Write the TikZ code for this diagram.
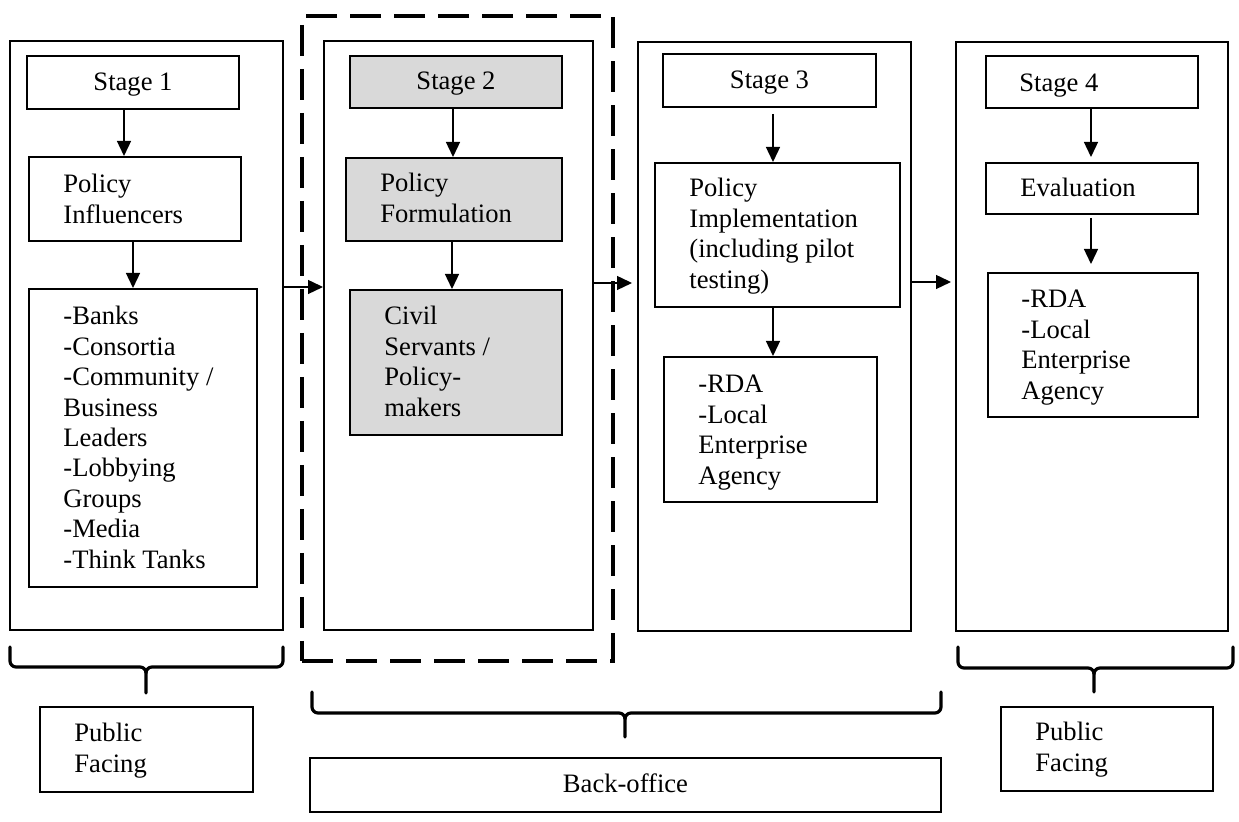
\documentclass[tikz,border=0pt]{standalone}
\usepackage{fontspec}
\setmainfont{Liberation Serif}
\usetikzlibrary{arrows.meta,fit,calc}
\definecolor{grayfill}{HTML}{D9D9D9}
\begin{document}
\begin{tikzpicture}[x=0.5pt,y=-0.5pt,
  box/.style={draw,line width=1pt,inner sep=0pt},
  gbox/.style={box,fill=grayfill},
  outer/.style={draw,line width=1pt,inner sep=0pt},
  dashbox/.style={draw,line width=2pt,dash pattern=on 15.5pt off 6.5pt,inner sep=0pt},
  arr/.style={line width=0.7pt,-{Triangle[length=7.5pt,width=7pt]}},
  txt/.style={inner sep=0pt,align=left,anchor=base west,font=\fontsize{13.3}{15.2}\selectfont},
  ctxt/.style={txt,anchor=base},
  brace/.style={line width=1.6pt,line cap=round,line join=round}]
\useasboundingbox (0,0) rectangle (1239,822);

% dashed back-office group
\node[dashbox,fit={(302,16)(613,661)}] (dash) {};

% outer stage columns
\node[outer,fit={(10,41)(283,630)}] (o1) {};
\node[outer,fit={(324,41)(593,630)}] (o2) {};
\node[outer,fit={(638,42)(911,631)}] (o3) {};
\node[outer,fit={(956,42)(1228,631)}] (o4) {};

% stage 1 (text nodes anchored at the baseline of their last line)
\node[box,fit={(27,56)(239,109)}] (s1) {};
\node[ctxt] (s1t) at (133,91) {Stage 1};
\node[box,fit={(29,157)(241,241)}] (pi) {};
\node[txt] (pit) at (63,223.4) {Policy\\Influencers};
\node[box,fit={(29,289)(257,587)}] (l1) {};
\node[txt] (l1t) at (63,568.2) {-Banks\\-Consortia\\-Community /\\Business\\Leaders\\-Lobbying\\Groups\\-Media\\-Think Tanks};

% stage 2
\node[gbox,fit={(350,56)(562,108)}] (s2) {};
\node[ctxt] (s2t) at (456,90) {Stage 2};
\node[gbox,fit={(346,158)(562,241)}] (pf) {};
\node[txt] (pft) at (380,222.4) {Policy\\Formulation};
\node[gbox,fit={(350,290)(562,435)}] (cs) {};
\node[txt] (cst) at (384,416.2) {Civil\\Servants /\\Policy-\\makers};

% stage 3
\node[box,fit={(663,54)(876,107)}] (s3) {};
\node[ctxt] (s3t) at (769.5,89) {Stage 3};
\node[box,fit={(655,163)(900,307)}] (pim) {};
\node[txt] (pimt) at (689,288.2) {Policy\\Implementation\\(including pilot\\testing)};
\node[box,fit={(664,357)(877,502)}] (r3) {};
\node[txt] (r3t) at (698,484.2) {-RDA\\-Local\\Enterprise\\Agency};

% stage 4
\node[box,fit={(986,56)(1198,108)}] (s4) {};
\node[txt] (s4t) at (1019,92) {Stage 4};
\node[box,fit={(986,163)(1198,214)}] (ev) {};
\node[txt] (evt) at (1020,197) {Evaluation};
\node[box,fit={(988,273)(1198,417)}] (r4) {};
\node[txt] (r4t) at (1021,399.2) {-RDA\\-Local\\Enterprise\\Agency};

% bottom labels
\node[box,fit={(40,707)(253,792)}] (pf1) {};
\node[txt] (pf1t) at (74,772.4) {Public\\Facing};
\node[box,fit={(310,758)(941,812)}] (bo) {};
\node[ctxt] (bot) at (625.5,793) {Back-office};
\node[box,fit={(1001,707)(1213,791)}] (pf2) {};
\node[txt] (pf2t) at (1035,771.4) {Public\\Facing};

% vertical arrows
\draw[arr] ([xshift=-4.5pt]s1.south) -- ([xshift=-4.5pt]s1.south |- pi.north);
\draw[arr] ([xshift=-1pt]pi.south) -- ([xshift=-1pt]pi.south |- l1.north);
\draw[arr] ([xshift=-1.5pt]s2.south) -- ([xshift=-1.5pt]s2.south |- pf.north);
\draw[arr] ([xshift=-1pt]pf.south) -- ([xshift=-1pt]pf.south |- cs.north);
\draw[arr,shorten <=3pt] ([xshift=1.75pt]s3.south) -- ([xshift=1.75pt]s3.south |- pim.north);
\draw[arr] ([xshift=-2.25pt]pim.south) -- ([xshift=-2.25pt]pim.south |- r3.north);
\draw[arr,shorten >=2.5pt] ([xshift=-0.5pt]s4.south) -- ([xshift=-0.5pt]s4.south |- ev.north);
\draw[arr,shorten <=1.5pt,shorten >=4pt] ([xshift=-0.5pt]ev.south) -- ([xshift=-0.5pt]ev.south |- r4.north);

% horizontal arrows between stages
\draw[arr] ([yshift=24.25pt]o1.east) -- ([yshift=24.25pt]o1.east -| o2.west);
\draw[arr,shorten >=2.5pt] ([yshift=26.25pt]o2.east) -- ([yshift=26.25pt]o2.east -| o3.west);
\draw[arr,shorten >=2pt] ([yshift=27.25pt]o3.east) -- ([yshift=27.25pt]o3.east -| o4.west);

% braces
\draw[brace] (10,647) -- (10,661) to[out=-90,in=180] (16,667) -- (140,667) to[out=0,in=90] (146,673) -- (146,693);
\draw[brace] (283,647) -- (283,661) to[out=-90,in=0] (277,667) -- (152,667) to[out=180,in=90] (146,673);
\draw[brace] (312,692) -- (312,707) to[out=-90,in=180] (318,713) -- (619,713) to[out=0,in=90] (625,719) -- (625,737);
\draw[brace] (941,692) -- (941,707) to[out=-90,in=0] (935,713) -- (631,713) to[out=180,in=90] (625,719);
\draw[brace] (958,647) -- (958,662) to[out=-90,in=180] (964,668) -- (1088,668) to[out=0,in=90] (1094,674) -- (1094,692);
\draw[brace] (1233,647) -- (1233,662) to[out=-90,in=0] (1227,668) -- (1100,668) to[out=180,in=90] (1094,674);
\end{tikzpicture}
\end{document}
